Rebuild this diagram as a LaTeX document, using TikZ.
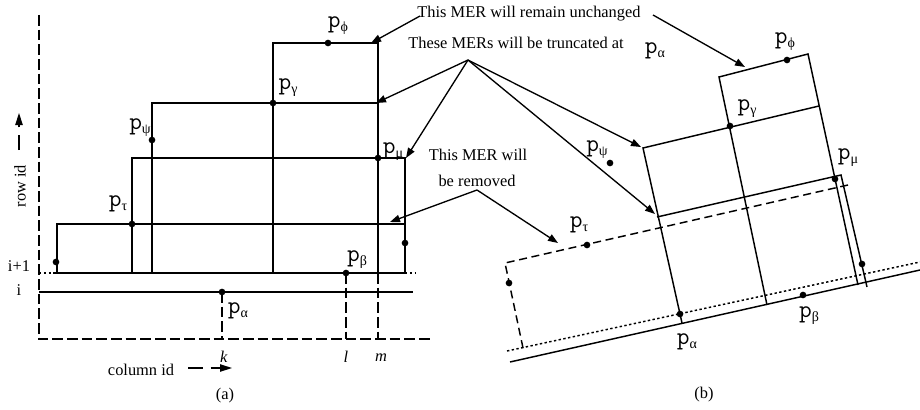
\documentclass[tikz,border=0pt]{standalone}
\usepackage{fontspec}
\setmainfont{Liberation Serif}
\usetikzlibrary{arrows.meta}
\newcommand{\ptlabel}[1]{{\fontsize{18.5}{18.5}\ttfamily p}\raisebox{-3pt}{\fontsize{10.5}{10.5}\selectfont #1}}

\begin{document}
\begin{tikzpicture}[
    x=0.75pt, y=-0.75pt,
    mer/.style={line width=1.1pt},
    removed/.style={line width=1.1pt, dash pattern=on 6pt off 3.5pt},
    axis/.style={line width=1.1pt, dash pattern=on 8pt off 3pt},
    rowline/.style={line width=1.1pt, dash pattern=on 1.8pt off 1.8pt},
    hit/.style={circle, fill=black, inner sep=0pt, minimum size=5pt},
    lbl/.style={inner sep=0pt},
    note/.style={inner sep=0pt, font=\fontsize{12.3}{14}\selectfont},
    pointer/.style={line width=1pt, -{Triangle[length=7.5pt,width=5.5pt]}},
    idarrow/.style={line width=1.1pt, dash pattern=on 11pt off 6pt, -{Triangle[length=9pt,width=5.5pt]}}
]
\useasboundingbox (0,0) rectangle (920,410);

% (a) axes and rows
\draw[axis] (39,15) -- (39,339) -- (430,339);
\draw[mer] (39,292) -- (413,292);
\draw[rowline] (39,273) -- (57,273);
\draw[rowline] (405,273) -- (415,273);

% (a) MERs
\draw[mer] (273,43) rectangle (378,273);
\draw[mer] (152,103) rectangle (378,273);
\draw[mer] (132,158) rectangle (405,273);
\draw[mer] (57,224) rectangle (405,273);

% (a) columns k, l, m
\draw[axis] (222,292) -- (222,339);
\draw[axis] (346,273) -- (346,339);
\draw[axis] (378,273) -- (378,339);

% (a) points
\node[hit] (aphi) at (328,43) {};
\node[hit] (agamma) at (273,103) {};
\node[hit] (apsi) at (152,140) {};
\node[hit] (amu) at (378,158) {};
\node[hit] (atau) at (132,224) {};
\node[hit] (aleft) at (56,262) {};
\node[hit] (aright) at (405,243) {};
\node[hit] (abeta) at (346,273) {};
\node[hit] (aalpha) at (222,292) {};

\node[lbl] (laphi) at (338,26) {\ptlabel{ϕ}};
\node[lbl] (lagamma) at (288,88) {\ptlabel{γ}};
\node[lbl] (lapsi) at (140,128) {\ptlabel{ψ}};
\node[lbl] (lamu) at (393,152) {\ptlabel{μ}};
\node[lbl] (latau) at (118,204) {\ptlabel{τ}};
\node[lbl] (labeta) at (357,260) {\ptlabel{β}};
\node[lbl] (laalpha) at (238,311) {\ptlabel{α}};

% (a) axis labels
\node[note] (rowi1) at (19,266) {i+1};
\node[note] (rowi) at (19,290) {i};
\node[note, rotate=90] (rowid) at (20,186) {row id};
\node[note] (colid) at (141,370) {column id};
\node[note] (colk) at (224,357) {\textit{k}};
\node[note] (coll) at (346,357) {\textit{l}};
\node[note] (colm) at (381,358) {\textit{m}};
\node[note] (capa) at (225,396) {(a)};
\coordinate (rowtail) at (19,150);
\coordinate (rowhead) at (19,113);
\coordinate (coltail) at (188,368);
\coordinate (colhead) at (232,368);
\draw[idarrow] (rowtail) -- (rowhead);
\draw[idarrow] (coltail) -- (colhead);

% (b) rows
\draw[mer] (510,362) -- (920,270);
\draw[rowline] (507,351) -- (920,262);

% (b) removed MER
\draw[removed] (523,348) -- (505,263) -- (848,185);

% (b) truncated MERs
\draw[mer] (682,323) -- (643,148) -- (819,106);
\draw[mer] (657,217) -- (841,175) -- (867,287);
\draw[mer] (767,305) -- (719,77) -- (808,54) -- (858,285);

% (b) points
\node[hit] (bphi) at (787,60) {};
\node[hit] (bgamma) at (730,126) {};
\node[hit] (bpsi) at (610,163) {};
\node[hit] (bmu) at (835,179) {};
\node[hit] (btau) at (587,245) {};
\node[hit] (bleft) at (509,283) {};
\node[hit] (bright) at (862,264) {};
\node[hit] (bbeta) at (803,295) {};
\node[hit] (balpha) at (680,314) {};

\node[lbl] (lbphi) at (785,42) {\ptlabel{ϕ}};
\node[lbl] (lbgamma) at (747,109) {\ptlabel{γ}};
\node[lbl] (lbpsi) at (597,150) {\ptlabel{ψ}};
\node[lbl] (lbmu) at (848,158) {\ptlabel{μ}};
\node[lbl] (lbtau) at (579,225) {\ptlabel{τ}};
\node[lbl] (lbbeta) at (809,316) {\ptlabel{β}};
\node[lbl] (lbalpha) at (687,342) {\ptlabel{α}};
\node[note] (capb) at (704,395) {(b)};

% Notes and pointers
\node[note] (unchanged) at (529,14) {This MER will remain unchanged};
\node[note] (truncated) at (516,43) {These MERs will be truncated at};
\node[lbl] (cutat) at (655,51) {\ptlabel{α}};
\node[note] (removed1) at (478,155) {This MER will};
\node[note] (removed2) at (477,181) {be removed};

\coordinate (keepL) at (420,16);
\coordinate (keepR) at (653,15);
\coordinate (cut) at (468,60);
\coordinate (drop) at (477,190);
\coordinate (aphiTR) at (371,43);
\coordinate (agammaTR) at (376,103);
\coordinate (amuTR) at (406,158);
\coordinate (atauTR) at (390,222);
\coordinate (bphiT) at (745,67);
\coordinate (bgammaTL) at (641,147);
\coordinate (bmuTL) at (655,214);
\coordinate (btauT) at (558,243);

\draw[pointer] (keepL) -- (aphiTR);
\draw[pointer] (keepR) -- (bphiT);
\draw[pointer] (cut) -- (agammaTR);
\draw[pointer] (cut) -- (amuTR);
\draw[pointer] (cut) -- (bgammaTL);
\draw[pointer] (cut) -- (bmuTL);
\draw[pointer] (drop) -- (atauTR);
\draw[pointer] (drop) -- (btauT);

\end{tikzpicture}
\end{document}
